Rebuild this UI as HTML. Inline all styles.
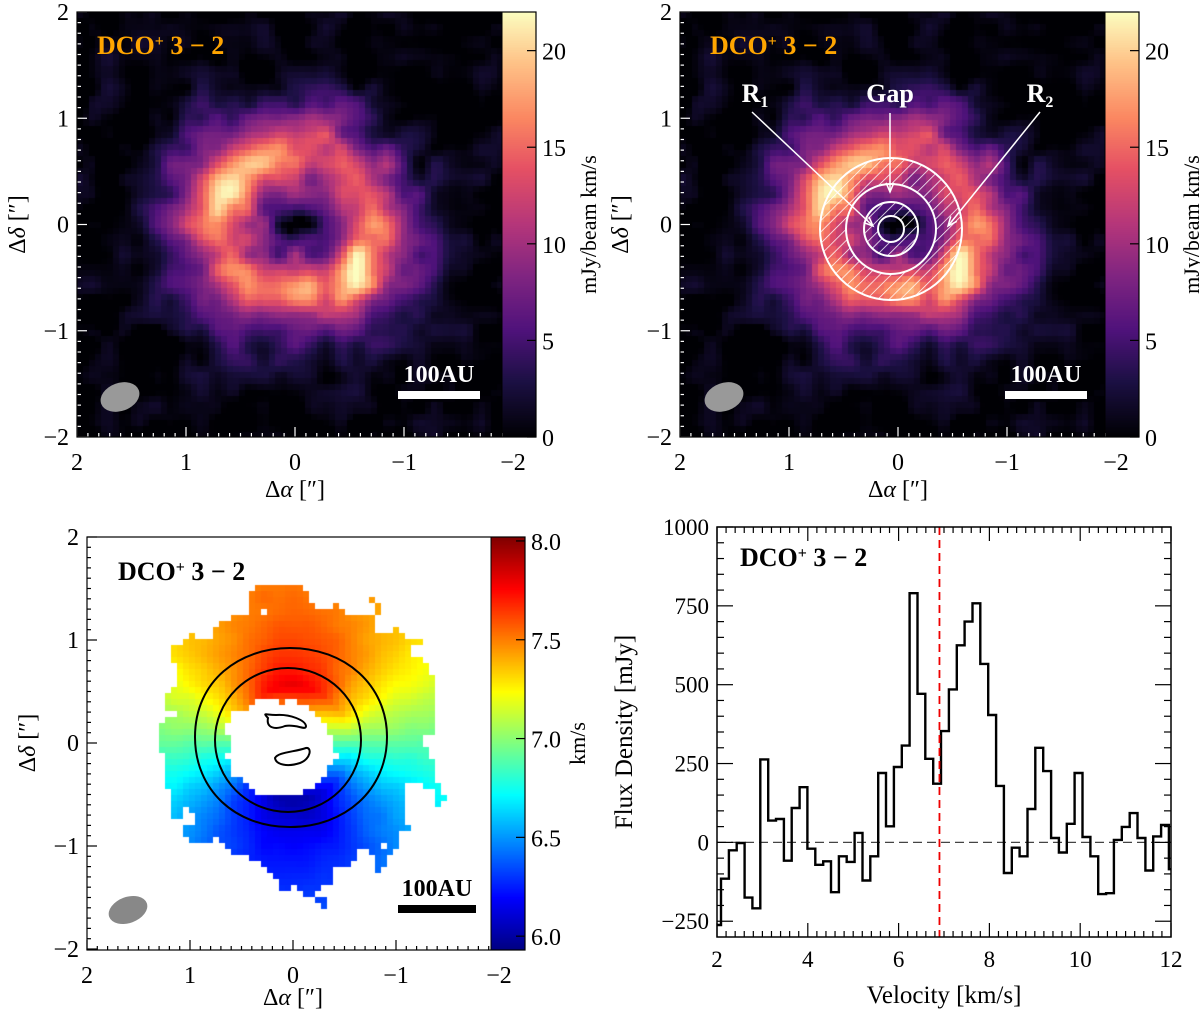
<!DOCTYPE html>
<html><head><meta charset="utf-8">
<style>
body{margin:0;background:#fff;}
#wrap{position:relative;width:1200px;height:1014px;overflow:hidden;background:#fff;font-family:"Liberation Serif",serif;}
canvas{position:absolute;}
svg{position:absolute;left:0;top:0;}
</style></head>
<body>
<div id="wrap">
<canvas id="m1" style="left:77px;top:12px" width="425" height="425"></canvas>
<canvas id="m2" style="left:680px;top:12px" width="425" height="425"></canvas>
<canvas id="m3" style="left:87px;top:537px" width="404" height="413"></canvas>
<canvas id="cb1" style="left:502px;top:12px" width="34" height="425"></canvas>
<canvas id="cb2" style="left:1105px;top:12px" width="34" height="425"></canvas>
<canvas id="cb3" style="left:491px;top:537px" width="34" height="413"></canvas>
<svg id="ov" width="1200" height="1014"></svg>
</div>
<script>
// ---- spectrum data ----
const specStart = 1.915;      // first channel left edge (km/s)
const specWidth = 0.1731;     // channel width (km/s)
const specFlux = [-262,-115,-25,-2,-175,-209,263,69,74,-58,109,175,-20,-71,-60,-158,-44,-62,30,-121,-44,220,51,239,307,790,471,265,186,353,485,625,700,758,566,404,179,-97,-17,-44,106,300,226,14,-32,59,220,17,-44,-164,-161,8,49,93,14,-89,19,55,-85,-36];
const specYTicks = [-250,0,250,500,750,1000];
const specXTicks = [2,4,6,8,10,12];
const vSys = 6.9;
const cb1Ticks = [0,5,10,15,20];
const cb3Ticks = [6.0,6.5,7.0,7.5,8.0];
const mapTicks = [2,1,0,-1,-2];

const NS='http://www.w3.org/2000/svg';
const ov=document.getElementById('ov');
function el(tag,attrs,parent){const e=document.createElementNS(NS,tag);for(const k in attrs)e.setAttribute(k,attrs[k]);(parent||ov).appendChild(e);return e;}
function txt(s,x,y,opt,parent){const t=el('text',Object.assign({x:x,y:y,'font-family':'Liberation Serif, serif','font-size':22,fill:'#000'},opt||{}),parent);t.innerHTML=s;return t;}

// ---- noise ----
function hash(i,j,s){let h=(i*374761393+j*668265263+s*982451653)|0;h=(h^(h>>>13))*1274126177|0;h=h^(h>>>16);return ((h>>>0)%10000)/10000;}
function vnoise(x,y,s){const i=Math.floor(x),j=Math.floor(y),fx=x-i,fy=y-j;const sx=fx*fx*(3-2*fx),sy=fy*fy*(3-2*fy);
const a=hash(i,j,s),b=hash(i+1,j,s),c=hash(i,j+1,s),d=hash(i+1,j+1,s);return a+(b-a)*sx+(c-a)*sy+(a-b-c+d)*sx*sy;}
function fbm(x,y,s){return 0.55*vnoise(x*3.5,y*3.5,s)+0.45*vnoise(x*7,y*7,s+7)-0.5;}

const magma=[[0,[0,0,4]],[0.13,[28,16,68]],[0.25,[79,18,123]],[0.38,[129,37,129]],[0.5,[181,54,122]],[0.63,[229,80,100]],[0.75,[251,135,97]],[0.88,[254,194,135]],[1,[252,253,191]]];
const jet=[[0,[0,0,131]],[0.125,[0,0,255]],[0.375,[0,255,255]],[0.625,[255,255,0]],[0.875,[255,0,0]],[1,[128,0,0]]];
function cmap(m,t){t=Math.max(0,Math.min(1,t));for(let k=1;k<m.length;k++){if(t<=m[k][0]){const a=m[k-1],b=m[k];const f=(t-a[0])/(b[0]-a[0]);return a[1].map((v,i)=>Math.round(v+(b[1][i]-v)*f));}}return m[m.length-1][1];}

function intensity(ax,ay){
  const r=Math.hypot(ax,ay*1.05);const th=Math.atan2(ay,-ax);
  let I=6.5*Math.exp(-Math.pow(r/1.4,6))+10*Math.exp(-Math.pow((r-0.72)/0.3,2));
  I*=1+0.15*Math.cos(2*(th-2.35));
  I-=3*Math.exp(-Math.pow(r/0.3,2));
  I+=11*fbm(ax,ay,3)*(0.5+0.5*Math.exp(-Math.pow(r/1.2,4)));
  return I;
}
function drawMoment(id,ppux,ppuy){
  const c=document.getElementById(id),g=c.getContext('2d');const cs=6;
  for(let y=0;y<c.height;y+=cs)for(let x=0;x<c.width;x+=cs){
    const ax=2-(x+cs/2)/ppux, ay=2-(y+cs/2)/ppuy;
    const col=cmap(magma,intensity(ax,ay)/22);g.fillStyle='rgb('+col+')';g.fillRect(x,y,cs,cs);}
}
drawMoment('m1',109,106.25);
drawMoment('m2',109,106.25);

function drawVel(){
  const c=document.getElementById('m3'),g=c.getContext('2d');const cs=6;
  g.fillStyle='#fff';g.fillRect(0,0,c.width,c.height);
  for(let y=0;y<c.height;y+=cs)for(let x=0;x<c.width;x+=cs){
    const ax=2-(x+cs/2)/103, ay=2-(y+cs/2)/103;
    const r=Math.hypot(ax+0.05,(ay-0.05)*0.92);
    const n=fbm(ax,ay,11);
    let keep = r<1.3+0.7*n;
    const hx=(ax-0.1)/0.52, hy=(ay+0.05)/0.46;
    if(Math.hypot(hx,hy)<1+0.4*n) keep=false;
    if(!keep) continue;
    const rr=Math.max(Math.hypot(ax,ay),0.55);
    let v=6.9+0.72*ay/Math.pow(rr,1.4)+0.08*n;
    const col=cmap(jet,(v-5.93)/(8.02-5.93));g.fillStyle='rgb('+col+')';g.fillRect(x,y,cs,cs);
  }
}
drawVel();

function drawCB(id,m){const c=document.getElementById(id),g=c.getContext('2d');for(let y=0;y<c.height;y++){const col=cmap(m,1-y/(c.height-1));g.fillStyle='rgb('+col+')';g.fillRect(0,y,c.width,1);}}
drawCB('cb1',magma);drawCB('cb2',magma);drawCB('cb3',jet);

// ---- map axes ----
function mapAxes(name,L,T,R,B,ppux,ppuy,tickCol,cbL,cbR,cbTicks,cbMin,cbMax,cbLabel,cbFmt,xtOff){
  const g=el('g',{});
  for(let v=2;v>=-2.001;v-=0.1){const x=L+(2-v)*ppux;if(x>R+0.5)continue;const major=Math.abs(v-Math.round(v))<0.01;
    el('line',{x1:x,x2:x,y1:B,y2:B-(major?10:4),stroke:tickCol,'stroke-width':1.2},g);}
  for(let v=2;v>=-2.001;v-=0.1){const y=T+(2-v)*ppuy;const major=Math.abs(v-Math.round(v))<0.01;
    el('line',{x1:L,x2:L+(major?10:4),y1:y,y2:y,stroke:tickCol,'stroke-width':1.2},g);}
  mapTicks.forEach(v=>{const x=L+(2-v)*ppux;const t=txt(v<0?'\u2212'+(-v):''+v,x,B+33,{'text-anchor':'middle','font-size':24},g);});
  mapTicks.forEach(v=>{const y=T+(2-v)*ppuy;const t=txt(v<0?'\u2212'+(-v):''+v,L-8,y+8,{'text-anchor':'end','font-size':24},g);});
  el('rect',{x:L,y:T,width:cbR-L,height:B-T,fill:'none',stroke:'#000','stroke-width':1.2},g);
  el('line',{x1:cbL,x2:cbL,y1:T,y2:B,stroke:'#000','stroke-width':1},g);
  const xt=txt('\u0394<tspan font-style="italic">\u03b1</tspan> [\u2033]',(L+(2*ppux)),B+xtOff,{'text-anchor':'middle','font-size':24},g);
  
  const yx=L-52,yy=T+2*ppuy;
  const yt=txt('\u0394<tspan font-style="italic">\u03b4</tspan> [\u2033]',yx,yy,{'text-anchor':'middle','font-size':24,transform:'rotate(-90 '+yx+' '+yy+')'},g);
  
  cbTicks.forEach(v=>{const y=B-(v-cbMin)/(cbMax-cbMin)*(B-T);
    el('line',{x1:cbR-9,x2:cbR,y1:y,y2:y,stroke:'#000','stroke-width':1.2},g);
    const t=txt(cbFmt(v),cbR+6,y+9,{'font-size':24},g);});
  const lx=cbR+60,ly=(T+B)/2;
  const ct=txt(cbLabel,lx,ly,{'text-anchor':'middle','font-size':22,transform:'rotate(-90 '+lx+' '+ly+')'},g);
  
  return g;
}
mapAxes('left-map',77,12,502,437,109,106.25,'#fff',502,536,cb1Ticks,0,22,'mJy/beam km/s',v=>''+v,60);
mapAxes('right-map',680,12,1105,437,109,106.25,'#fff',1105,1139,cb1Ticks,0,22,'mJy/beam km/s',v=>''+v,60);
mapAxes('velocity-map',87,537,491,950,103,103,'#000',491,525,cb3Ticks,5.93,8.02,'km/s',v=>v.toFixed(1),55);

// titles, beams, scale bars
function title(x,y,col,name){const t=txt('DCO<tspan baseline-shift="super" font-size="16">+</tspan> 3 \u2212 2',x,y,{'font-weight':'bold',fill:col,'font-size':26});}
title(97,54,'#FFA500','title-left');title(710,54,'#FFA500','title-right');title(118,580,'#000','title-velocity');title(740,566,'#000','title-spectrum');
el('ellipse',{cx:120,cy:397,rx:20,ry:14,transform:'rotate(-20 120 397)',fill:'#999',});
el('ellipse',{cx:724,cy:397,rx:20,ry:14,transform:'rotate(-20 724 397)',fill:'#999',});
el('ellipse',{cx:128,cy:910,rx:20,ry:13,transform:'rotate(-20 128 910)',fill:'#888',});
el('rect',{x:398,y:391,width:82,height:8,fill:'#fff',});
el('rect',{x:1005,y:391,width:82,height:8,fill:'#fff',});
el('rect',{x:398,y:905,width:78,height:8,fill:'#000',});
txt('100AU',439,382,{'text-anchor':'middle','font-weight':'bold',fill:'#fff','font-size':24});
txt('100AU',1046,382,{'text-anchor':'middle','font-weight':'bold',fill:'#fff','font-size':24});
txt('100AU',437,896,{'text-anchor':'middle','font-weight':'bold',fill:'#000','font-size':24});

// hatched rings on right map
const defs=el('defs',{});
const pat=el('pattern',{id:'hatch',width:8,height:8,patternUnits:'userSpaceOnUse',patternTransform:'rotate(45)'},defs);
el('line',{x1:0,y1:0,x2:0,y2:8,stroke:'#fff','stroke-width':1.5},pat);
const rg=el('g',{});
const cx=891,cy=229;
el('path',{d:`M${cx-71},${cy}a71,71 0 1,0 142,0a71,71 0 1,0 -142,0M${cx-45},${cy}a45,45 0 1,1 90,0a45,45 0 1,1 -90,0`,fill:'url(#hatch)','fill-rule':'evenodd',stroke:'#fff','stroke-width':2,},rg);
el('path',{d:`M${cx-27},${cy}a27,27 0 1,0 54,0a27,27 0 1,0 -54,0M${cx-13},${cy}a13,13 0 1,1 26,0a13,13 0 1,1 -26,0`,fill:'url(#hatch)','fill-rule':'evenodd',stroke:'#fff','stroke-width':2,},rg);
[[752,112,873,226],[890,113,890,192],[1040,112,948,226]].forEach(a=>{
  el('line',{x1:a[0],y1:a[1],x2:a[2],y2:a[3],stroke:'#fff','stroke-width':1.5},rg);
  const ang=Math.atan2(a[3]-a[1],a[2]-a[0]);
  const p=[[a[2],a[3]],[a[2]-10*Math.cos(ang-0.4),a[3]-10*Math.sin(ang-0.4)],[a[2]-10*Math.cos(ang+0.4),a[3]-10*Math.sin(ang+0.4)]];
  el('polyline',{points:p[1]+' '+p[0]+' '+p[2],fill:'none',stroke:'#fff','stroke-width':1.5},rg);
});
txt('R<tspan font-size="16" dy="5">1</tspan>',755,102,{'text-anchor':'middle','font-weight':'bold',fill:'#fff','font-size':26},rg);
txt('Gap',890,102,{'text-anchor':'middle','font-weight':'bold',fill:'#fff','font-size':26},rg);
txt('R<tspan font-size="16" dy="5">2</tspan>',1040,102,{'text-anchor':'middle','font-weight':'bold',fill:'#fff','font-size':26},rg);

// contours on velocity map
const cg=el('g',{fill:'none',stroke:'#000','stroke-width':2});
el('ellipse',{cx:288,cy:740,rx:73,ry:72},cg);
el('path',{d:'M195,737 C195,680 240,648 290,648 C345,648 387,685 387,737 C387,790 345,827 290,827 C235,827 195,790 195,737Z'},cg);
el('path',{d:'M268,718 C262,712 266,715 276,715 C290,714 305,720 306,726 C306,731 297,724 285,726 C275,730 266,728 268,718Z'},cg);
el('path',{d:'M275,758 C278,752 295,752 306,748 C312,747 311,759 300,763 C288,767 276,765 275,758Z'},cg);

// ---- spectrum ----
const SL=717,SR=1171,ST=527,SB=937,xMin=2,xMax=12,yMin=-300,yMax=1000;
const sx=v=>SL+(v-xMin)/(xMax-xMin)*(SR-SL);
const sy=v=>SB-(v-yMin)/(yMax-yMin)*(SB-ST);
const sg=el('g',{});
el('line',{x1:SL,x2:SR,y1:sy(0),y2:sy(0),stroke:'#444','stroke-width':1.3,'stroke-dasharray':'9,5',},sg);
let d='';
specFlux.forEach((f,i)=>{let a=specStart+i*specWidth,b=a+specWidth;a=Math.max(a,xMin);b=Math.min(b,xMax);if(b<=a)return;
  d+=(d?'L':'M')+sx(a).toFixed(1)+','+sy(f).toFixed(1)+'L'+sx(b).toFixed(1)+','+sy(f).toFixed(1);});
el('path',{d:d,fill:'none',stroke:'#000','stroke-width':2.4,},sg);
el('line',{x1:sx(vSys),x2:sx(vSys),y1:ST,y2:SB,stroke:'#e00','stroke-width':1.8,'stroke-dasharray':'8,5',},sg);
for(let v=2;v<=12.001;v+=0.2){const x=sx(v);const major=Math.abs(v/2-Math.round(v/2))<0.01;
  el('line',{x1:x,x2:x,y1:SB,y2:SB-(major?14:6),stroke:'#000','stroke-width':1.2},sg);
  el('line',{x1:x,x2:x,y1:ST,y2:ST+(major?14:6),stroke:'#000','stroke-width':1.2},sg);}
for(let v=-250;v<=1000;v+=50){const y=sy(v);const major=v%250===0;
  el('line',{x1:SL,x2:SL+(major?16:7),y1:y,y2:y,stroke:'#000','stroke-width':1.2},sg);
  el('line',{x1:SR,x2:SR-(major?16:7),y1:y,y2:y,stroke:'#000','stroke-width':1.2},sg);}
el('rect',{x:SL,y:ST,width:SR-SL,height:SB-ST,fill:'none',stroke:'#000','stroke-width':1.5,},sg);
specXTicks.forEach(v=>{const t=txt(''+v,sx(v),SB+30,{'text-anchor':'middle','font-size':23},sg);});
specYTicks.forEach(v=>{const t=txt(v<0?'\u2212'+(-v):''+v,SL-8,sy(v)+8,{'text-anchor':'end','font-size':23},sg);});
const vx=txt('Velocity [km/s]',(SL+SR)/2,1003,{'text-anchor':'middle','font-size':25},sg);
const fy=txt('Flux Density [mJy]',632,(ST+SB)/2,{'text-anchor':'middle','font-size':25,transform:'rotate(-90 632 '+((ST+SB)/2)+')'},sg);
</script>
</body></html>
